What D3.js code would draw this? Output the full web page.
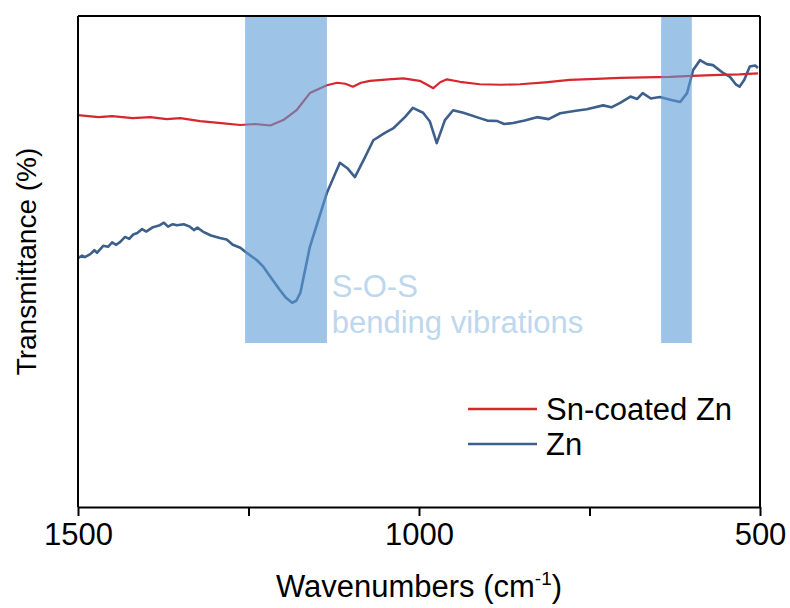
<!DOCTYPE html>
<html>
<head>
<meta charset="utf-8">
<script src="https://cdn.jsdelivr.net/npm/d3@7"></script>
<style>
  body { margin: 0; background: #fff; }
  text { font-family: "Liberation Sans", Arial, sans-serif; }
</style>
</head>
<body>
<div id="main"></div>
<script>
// wavenumbers (cm-1) and transmittance (arbitrary)
var snWave = [1500, 1470, 1450, 1420, 1394, 1370, 1350, 1321, 1290, 1262, 1240, 1218, 1199, 1179, 1160, 1135, 1120, 1108, 1097, 1085, 1072, 1045, 1023, 999, 988, 979, 969, 959, 940, 911, 880, 852, 815, 779, 740, 705, 670, 632, 600, 559, 530, 503];
var snVal  = [79.8, 79.4, 79.6, 79.2, 79.4, 79.0, 79.2, 78.6, 78.2, 77.8, 78.0, 77.7, 78.8, 80.9, 84.3, 85.9, 86.4, 86.2, 85.6, 86.4, 86.8, 87.1, 87.3, 86.8, 86.0, 85.3, 86.5, 87.1, 86.6, 86.1, 86.0, 86.1, 86.5, 87.0, 87.2, 87.4, 87.5, 87.6, 87.8, 88.0, 88.1, 88.3];

var znWave = [1500, 1494, 1490, 1482, 1476, 1472, 1463, 1456, 1450, 1444, 1438, 1431, 1425, 1419, 1413, 1406, 1400, 1390, 1380, 1374, 1368, 1361, 1355, 1345, 1336, 1330, 1325, 1317, 1305, 1292, 1282, 1273, 1262, 1252, 1238, 1228, 1218, 1204, 1195, 1186, 1180, 1174, 1160, 1135, 1116, 1105, 1094, 1080, 1067, 1050, 1038, 1020, 1009, 994, 984, 974, 962, 950, 935, 911, 900, 885, 875, 862, 845, 827, 810, 793, 770, 754, 730, 718, 705, 690, 680, 672, 660, 647, 630, 617, 607, 598, 588, 578, 569, 554, 544, 535, 530, 523, 515, 507, 503];
var znVal  = [50.7, 51.2, 50.9, 51.5, 52.3, 51.8, 53.2, 53.0, 53.9, 53.4, 54.0, 55.0, 54.6, 55.5, 55.8, 56.6, 56.1, 57.0, 57.4, 57.9, 57.1, 57.6, 57.4, 57.6, 57.1, 56.4, 56.9, 56.1, 55.3, 54.8, 54.5, 53.4, 52.8, 51.7, 50.3, 48.9, 46.9, 44.2, 42.6, 41.6, 42.0, 43.6, 53.0, 64.0, 70.1, 69.0, 67.2, 71.0, 74.7, 76.2, 77.1, 79.5, 81.3, 80.3, 78.5, 74.1, 78.8, 80.8, 80.3, 79.2, 78.7, 78.6, 78.0, 78.2, 78.7, 79.4, 79.0, 80.2, 80.7, 81.0, 81.8, 81.4, 82.3, 83.6, 83.1, 84.3, 83.2, 83.5, 82.9, 82.5, 84.3, 89.0, 91.0, 90.2, 90.0, 88.4, 87.6, 86.0, 85.6, 87.0, 89.7, 89.9, 89.4];

var bandStart = [1255, 645];
var bandEnd   = [1135, 600];

var seriesNames  = ["Sn-coated Zn", "Zn"];
var seriesColors = ["#d7262e", "#3d5f8b"];

var xTicks = [1500, 1250, 1000, 750, 500];
var xTickLabels = ["1500", "", "1000", "", "500"];

var svgWidth = 790, svgHeight = 608;
var plotLeft = 78, plotRight = 760, plotTop = 16, plotBottom = 507;

var svg = d3.select("#main").append("svg")
  .attr("width", svgWidth)
  .attr("height", svgHeight);

var x = d3.scaleLinear().domain([1500, 500]).range([plotLeft, plotRight]);
var y = d3.scaleLinear().domain([0, 100]).range([plotBottom, plotTop]);

var line = d3.line()
  .x(function(d) { return x(d[0]); })
  .y(function(d) { return y(d[1]); });

var sn = d3.zip(snWave, snVal);
var zn = d3.zip(znWave, znVal);

svg.append("path")
  .attr("d", line(zn))
  .style("fill", "none")
  .style("stroke", seriesColors[1])
  .style("stroke-width", 2.6)
  .style("stroke-linejoin", "round");

svg.append("path")
  .attr("d", line(sn))
  .style("fill", "none")
  .style("stroke", seriesColors[0])
  .style("stroke-width", 2.2)
  .style("stroke-linejoin", "round");

// shaded bands sit on top of the curves, half transparent
var bandBottom = 33.4;
svg.selectAll("rect.band")
  .data(d3.zip(bandStart, bandEnd))
  .enter()
  .append("rect")
  .attr("class", "band")
  .attr("x", function(d) { return x(d[0]); })
  .attr("width", function(d) { return x(d[1]) - x(d[0]); })
  .attr("y", y(100))
  .attr("height", y(bandBottom) - y(100))
  .style("fill", "#5b9bd5")
  .style("opacity", 0.6);

svg.append("text")
  .attr("x", x(1128))
  .attr("y", y(42.8))
  .style("font-size", "31px")
  .style("fill", "#bdd7ee")
  .text("S-O-S");
svg.append("text")
  .attr("x", x(1128))
  .attr("y", y(35.4))
  .style("font-size", "31px")
  .style("fill", "#bdd7ee")
  .text("bending vibrations");

// axes
var xAxis = d3.axisBottom(x)
  .tickValues(xTicks)
  .tickFormat(function(d, i) { return xTickLabels[i]; })
  .tickSize(9)
  .tickSizeOuter(0)
  .tickPadding(7);

var gx = svg.append("g")
  .attr("transform", "translate(0," + plotBottom + ")")
  .call(xAxis);
gx.select(".domain").style("stroke", "#000").style("stroke-width", 2);
gx.selectAll(".tick line").style("stroke", "#000").style("stroke-width", 2);
gx.selectAll(".tick text")
  .style("font-size", "31px")
  .style("font-family", "Liberation Sans, Arial, sans-serif")
  .style("fill", "#000");

var frame = [
  [plotLeft, plotTop, plotLeft, plotBottom],
  [plotLeft, plotTop, plotRight, plotTop],
  [plotRight, plotTop, plotRight, plotBottom]
];
svg.selectAll("line.frame")
  .data(frame)
  .enter()
  .append("line")
  .attr("class", "frame")
  .attr("x1", function(d) { return d[0]; })
  .attr("y1", function(d) { return d[1]; })
  .attr("x2", function(d) { return d[2]; })
  .attr("y2", function(d) { return d[3]; })
  .style("stroke", "#000")
  .style("stroke-width", 2);

// axis titles
var xTitle = svg.append("text")
  .attr("x", (plotLeft + plotRight) / 2)
  .attr("y", 597)
  .attr("text-anchor", "middle")
  .style("font-size", "31px");
xTitle.append("tspan").text("Wavenumbers (cm");
xTitle.append("tspan").attr("dy", -12).style("font-size", "19px").text("-1");
xTitle.append("tspan").attr("dy", 12).text(")");

svg.append("text")
  .attr("transform", "translate(36," + (plotTop + plotBottom) / 2 + ") rotate(-90)")
  .attr("text-anchor", "middle")
  .style("font-size", "28px")
  .text("Transmittance (%)");

// legend
var legendY = [409, 444];
seriesNames.forEach(function(name, i) {
  svg.append("line")
    .attr("x1", 468).attr("x2", 537)
    .attr("y1", legendY[i]).attr("y2", legendY[i])
    .style("stroke", seriesColors[i])
    .style("stroke-width", 2.4);
  svg.append("text")
    .attr("x", 546)
    .attr("y", legendY[i] + 11)
    .style("font-size", "31px")
    .text(name);
});
</script>
</body>
</html>
